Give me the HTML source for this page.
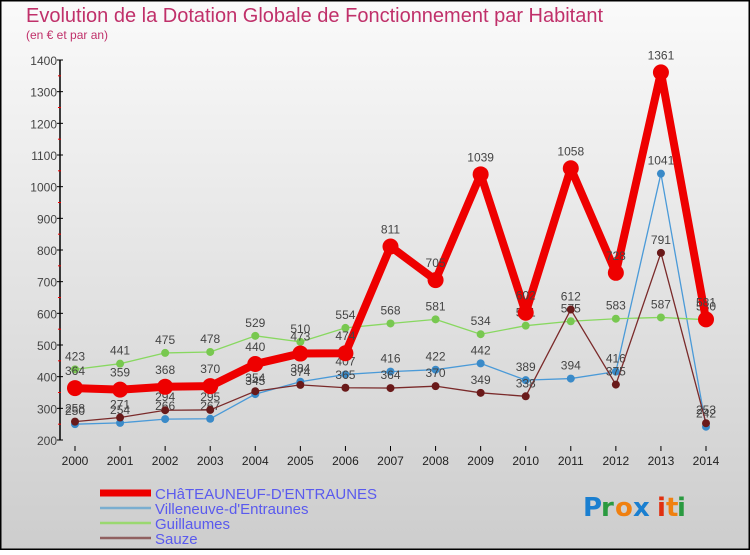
<!DOCTYPE html>
<html><head><meta charset="utf-8"><style>
html,body{margin:0;padding:0}
body{width:750px;height:550px;overflow:hidden;font-family:"Liberation Sans",sans-serif}
</style></head><body>
<svg id="chart" width="750" height="550" xmlns="http://www.w3.org/2000/svg">
<defs><linearGradient id="bg" x1="0" y1="0" x2="0" y2="1"><stop offset="0" stop-color="#fafafa"/><stop offset="1" stop-color="#cdcdcd"/></linearGradient></defs>
<rect x="0" y="0" width="750" height="550" fill="url(#bg)"/>
<rect x="0.5" y="0.5" width="749" height="549" fill="none" stroke="#000" stroke-width="2"/>
<text x="26" y="22" font-size="20" fill="#c0306a">Evolution de la Dotation Globale de Fonctionnement par Habitant</text>
<text x="26" y="39" font-size="12" fill="#c0306a">(en € et par an)</text>
<g id="axes"></g>
<g id="series"></g>
<g id="legend"></g>
<g font-size="26" font-family="'DejaVu Sans',sans-serif" font-weight="bold">
<text x="583" y="516" fill="#1a7fd0">P</text><text x="601" y="516" fill="#2a9a40">r</text><text x="615" y="516" fill="#f08010">o</text><text x="633" y="516" fill="#1a7fd0">x</text><text x="657" y="516" fill="#e03010">i</text><text x="666" y="516" fill="#f08010">t</text><text x="677" y="516" fill="#2a9a40">i</text>
</g>
</svg>
<script>
const years=[2000,2001,2002,2003,2004,2005,2006,2007,2008,2009,2010,2011,2012,2013,2014];
const chateauneuf=[364,359,368,370,440,473,474,811,705,1039,602,1058,728,1361,581];
const villeneuve=[250,254,266,267,345,384,407,416,422,442,389,394,416,1041,242];
const guillaumes=[423,441,475,478,529,510,554,568,581,534,561,575,583,587,580];
const sauze=[258,271,294,295,354,374,365,364,370,349,338,612,375,791,253];
const yTicks=[200,300,400,500,600,700,800,900,1000,1100,1200,1300,1400];
const seriesNames=["CHâTEAUNEUF-D'ENTRAUNES","Villeneuve-d'Entraunes","Guillaumes","Sauze"];
const NS="http://www.w3.org/2000/svg";
const x=i=>75+i*(706-75)/14;
const y=v=>440-(v-200)*(380/1200);
function mk(t,a,p){const e=document.createElementNS(NS,t);for(const k in a)e.setAttribute(k,a[k]);p.appendChild(e);return e;}
const axes=document.getElementById('axes');
const ya=mk('line',{x1:60,y1:60,x2:60,y2:440,stroke:'#000','stroke-width':1.5},axes);


yTicks.forEach((v,i)=>{
 mk('line',{x1:57,y1:y(v),x2:63,y2:y(v),stroke:'#000'},axes);
 if(i<yTicks.length-1) mk('line',{x1:58,y1:y(v+50),x2:61,y2:y(v+50),stroke:'#e00'},axes);
 const t=mk('text',{x:57,y:y(v)+5,'text-anchor':'end','font-size':12,fill:'#444'},axes);t.textContent=v;
 
 
});
years.forEach((yr,i)=>{
 mk('line',{x1:x(i),y1:446,x2:x(i),y2:451,stroke:'#000'},axes);
 const t=mk('text',{x:x(i),y:465,'text-anchor':'middle','font-size':12,fill:'#222'},axes);t.textContent=yr;
 
 
});
const sg=document.getElementById('series');
const defs=[
 {d:villeneuve,c:'#4a9ad8',w:1.3,r:4,fill:'#3a8ac8',name:'villeneuve-line'},
 {d:guillaumes,c:'#88d860',w:1.3,r:4,fill:'#78c850',name:'guillaumes-line'},
 {d:sauze,c:'#7a2a2a',w:1.3,r:4,fill:'#6a1a1a',name:'sauze-line'},
 {d:chateauneuf,c:'#ee0000',w:8,r:8,fill:'#ee0000',name:'chateauneuf-line'}
];
defs.forEach(s=>{
 const g=mk('g',{},sg);
 
 
 mk('polyline',{points:s.d.map((v,i)=>x(i)+','+y(v)).join(' '),fill:'none',stroke:s.c,'stroke-width':s.w,'stroke-linejoin':'round'},g);
 s.d.forEach((v,i)=>{
  const c=mk('circle',{cx:x(i),cy:y(v),r:s.r,fill:s.fill},g);
  
  
  const t=mk('text',{x:x(i),y:y(v)-9-(s.r>5?4:0),'text-anchor':'middle','font-size':12,fill:'#444'},g);t.textContent=v;
  
  
 });
});
const lg=document.getElementById('legend');
const lc=['#ee0000','#7aaed0','#9ad870','#906060'],lw=[7,2.5,2.5,2.5];
seriesNames.forEach((n,i)=>{
 const yy=493+i*15;
 const g=mk('g',{},lg);
 
 
 mk('line',{x1:100,y1:yy,x2:151,y2:yy,stroke:lc[i],'stroke-width':lw[i]},g);
 const t=mk('text',{x:155,y:yy+6,'font-size':15,fill:'#5a5aee'},g);t.textContent=n;
});
</script>
</body></html>
